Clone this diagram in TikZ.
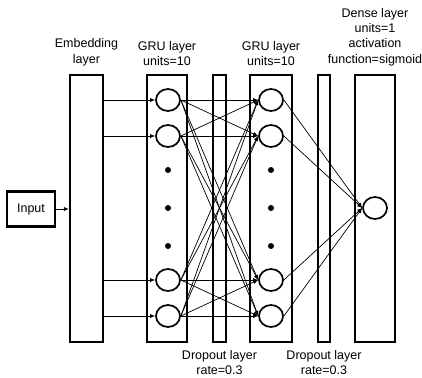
\documentclass[tikz,border=0pt]{standalone}
\usepackage{fontspec}
\setmainfont{Liberation Sans}
\usetikzlibrary{arrows.meta, positioning, shapes.geometric}

\begin{document}
\begin{tikzpicture}[
  x=1pt, y=-1pt,
  font=\fontsize{12.5}{15.3}\selectfont,
  layer/.style={rectangle, draw, line width=2.2pt, inner sep=0pt, minimum height=267pt},
  unit/.style={ellipse, draw, line width=1.7pt, minimum width=24pt, minimum height=22pt, inner sep=0pt},
  dot/.style={circle, fill, inner sep=0pt, minimum size=6pt},
  caption/.style={align=center, inner sep=0pt},
  edge/.style={-{Latex[length=5pt, width=4pt]}, line width=0.7pt}
]
\useasboundingbox (0,0) rectangle (422,377);

\node[layer, minimum width=33pt] (embed) at (86.5,208.5) {};
\node[layer, minimum width=40pt] (gru1) at (167,208.5) {};
\node[layer, minimum width=13pt] (drop1) at (219.5,208.5) {};
\node[layer, minimum width=42pt] (gru2) at (271,208.5) {};
\node[layer, minimum width=12pt] (drop2) at (324,208.5) {};
\node[layer, minimum width=40pt] (dense) at (375,208.5) {};
\node[rectangle, draw, line width=2.2pt, minimum width=48pt, minimum height=35pt] (input) at (31,209) {Input};

\foreach \n/\y in {1/100, 2/136, 3/280, 4/316} {
  \node[unit] (a\n) at (168,\y) {};
  \node[unit] (b\n) at (271,\y) {};
}
\node[unit] (out) at (375,208) {};
\foreach \n/\y in {1/170, 2/208, 3/246} {
  \node[dot] (da\n) at (168,\y) {};
  \node[dot] (db\n) at (271,\y) {};
}

\draw[edge] (input) -- (embed.west |- input);
\foreach \n in {1,...,4} {
  \draw[edge] (embed.east |- a\n) -- (a\n);
  \draw[edge] (b\n.east) -- (out.west);
  \foreach \m in {1,...,4}
    \draw[edge] (a\n.east) -- (b\m.west);
}

\node[caption, above=8pt of embed] (embedlabel) {Embedding\\layer};
\node[caption, above=8pt of gru1] (gru1label) {GRU layer\\units=10};
\node[caption, above=8pt of gru2] (gru2label) {GRU layer\\units=10};
\node[caption, above=8pt of dense] (denselabel) {Dense layer\\units=1\\activation\\function=sigmoid};
\node[caption, below=7pt of drop1] (drop1label) {Dropout layer\\rate=0.3};
\node[caption, below=7pt of drop2] (drop2label) {Dropout layer\\rate=0.3};
\end{tikzpicture}
\end{document}
